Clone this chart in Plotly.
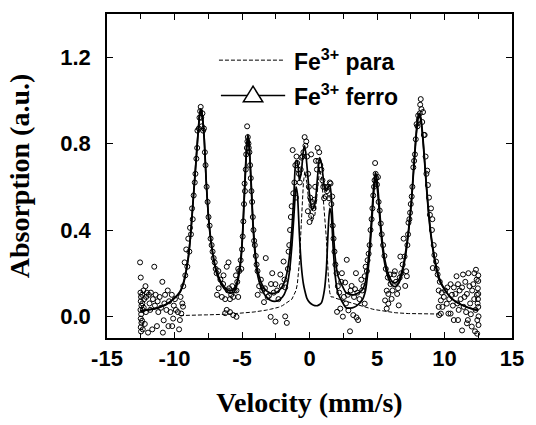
import plotly.graph_objects as go

# Velocity grid of the fitted curves (mm/s)
FIT_V = [
    -12.5, -12.0, -11.5, -11.0, -10.5, -10.0, -9.6, -9.3, -9.0, -8.8,
    -8.6, -8.4, -8.25, -8.12, -8.05, -7.95, -7.8, -7.65, -7.5, -7.35,
    -7.2, -7.0, -6.8, -6.5, -6.2, -5.9, -5.6, -5.4, -5.2, -5.05,
    -4.95, -4.85, -4.75, -4.65, -4.57, -4.48, -4.38, -4.28, -4.18, -4.05,
    -3.9, -3.7, -3.5, -3.2, -2.9, -2.6, -2.3, -2.0, -1.75, -1.5,
    -1.3, -1.15, -1.0, -0.9, -0.75, -0.6, -0.45, -0.35, -0.2, 0.0,
    0.2, 0.4, 0.6, 0.75, 0.9, 1.1, 1.25, 1.4, 1.5, 1.6,
    1.75, 1.9, 2.1, 2.4, 2.7, 3.0, 3.3, 3.6, 3.9, 4.15,
    4.35, 4.5, 4.65, 4.78, 4.88, 4.98, 5.1, 5.25, 5.4, 5.6,
    5.85, 6.1, 6.35, 6.6, 6.85, 7.1, 7.35, 7.55, 7.75, 7.92,
    8.05, 8.15, 8.25, 8.4, 8.6, 8.8, 9.0, 9.3, 9.6, 10.0,
    10.5, 11.0, 11.5, 12.0, 12.5,
]

# Fe3+ ferromagnetic sextet component
FIT_FERRO = [
    0.025, 0.03, 0.035, 0.045, 0.06, 0.085, 0.11, 0.16, 0.26, 0.38,
    0.55, 0.72, 0.85, 0.94, 0.955, 0.93, 0.82, 0.62, 0.47, 0.37,
    0.30, 0.23, 0.185, 0.145, 0.12, 0.108, 0.112, 0.14, 0.20, 0.28,
    0.38, 0.52, 0.66, 0.78, 0.825, 0.79, 0.68, 0.55, 0.41, 0.30,
    0.21, 0.155, 0.12, 0.09, 0.075, 0.07, 0.075, 0.09, 0.12, 0.20,
    0.33, 0.47, 0.60, 0.57, 0.38, 0.23, 0.15, 0.12, 0.085, 0.065,
    0.055, 0.05, 0.05, 0.055, 0.065, 0.12, 0.22, 0.42, 0.50, 0.48,
    0.32, 0.19, 0.11, 0.07, 0.04, 0.038, 0.042, 0.055, 0.075, 0.12,
    0.22, 0.33, 0.47, 0.59, 0.635, 0.615, 0.54, 0.42, 0.32, 0.235,
    0.175, 0.145, 0.138, 0.152, 0.196, 0.276, 0.397, 0.527, 0.707, 0.848,
    0.918, 0.928, 0.908, 0.818, 0.649, 0.489, 0.369, 0.249, 0.169, 0.125,
    0.085, 0.062, 0.047, 0.036, 0.028,
]

# Fe3+ paramagnetic doublet component (not fitted beyond about +-9.6 mm/s)
FIT_PARA = [
    None, None, None, None, None, None, 0.004, 0.005, 0.005, 0.005,
    0.006, 0.006, 0.006, 0.006, 0.006, 0.007, 0.007, 0.007, 0.007, 0.008,
    0.008, 0.008, 0.009, 0.009, 0.01, 0.011, 0.012, 0.013, 0.014, 0.015,
    0.015, 0.016, 0.016, 0.017, 0.017, 0.018, 0.018, 0.019, 0.02, 0.021,
    0.022, 0.024, 0.026, 0.029, 0.033, 0.037, 0.042, 0.05, 0.06, 0.07,
    0.08, 0.10, 0.12, 0.15, 0.25, 0.44, 0.62, 0.67, 0.62, 0.50,
    0.44, 0.47, 0.60, 0.68, 0.64, 0.48, 0.36, 0.18, 0.11, 0.09,
    0.09, 0.085, 0.08, 0.075, 0.07, 0.064, 0.058, 0.053, 0.047, 0.042,
    0.039, 0.036, 0.034, 0.032, 0.031, 0.03, 0.028, 0.026, 0.024, 0.022,
    0.02, 0.018, 0.017, 0.016, 0.014, 0.014, 0.013, 0.013, 0.013, 0.012,
    0.012, 0.012, 0.012, 0.012, 0.011, 0.011, 0.011, 0.011, 0.011, None,
    None, None, None, None, None,
]

# Full fitted envelope
FIT_TOTAL = [
    0.025, 0.03, 0.035, 0.045, 0.06, 0.085, 0.114, 0.165, 0.265, 0.385,
    0.556, 0.726, 0.856, 0.946, 0.961, 0.937, 0.827, 0.627, 0.477, 0.378,
    0.308, 0.238, 0.194, 0.154, 0.13, 0.119, 0.124, 0.153, 0.214, 0.295,
    0.395, 0.536, 0.676, 0.797, 0.842, 0.808, 0.698, 0.569, 0.43, 0.321,
    0.232, 0.179, 0.146, 0.119, 0.108, 0.107, 0.117, 0.14, 0.18, 0.27,
    0.41, 0.57, 0.72, 0.72, 0.63, 0.67, 0.77, 0.79, 0.705, 0.565,
    0.495, 0.52, 0.65, 0.735, 0.705, 0.60, 0.58, 0.60, 0.61, 0.57,
    0.41, 0.275, 0.19, 0.145, 0.11, 0.102, 0.10, 0.108, 0.122, 0.162,
    0.259, 0.366, 0.504, 0.622, 0.666, 0.645, 0.568, 0.446, 0.344, 0.257,
    0.195, 0.163, 0.155, 0.168, 0.21, 0.29, 0.41, 0.54, 0.72, 0.86,
    0.93, 0.94, 0.92, 0.83, 0.66, 0.50, 0.38, 0.26, 0.18, 0.125,
    0.085, 0.062, 0.047, 0.036, 0.028,
]

# Measured spectrum: (velocity mm/s, absorption a.u.)
MEASURED = [
    # left baseline
    (-12.55, 0.25), (-12.5, 0.18), (-12.52, 0.11), (-12.48, 0.09), (-12.5, 0.07),
    (-12.45, 0.05), (-12.52, 0.03), (-12.47, 0.01), (-12.5, -0.01), (-12.45, -0.03),
    (-12.5, -0.05), (-12.48, -0.07), (-12.4, 0.10), (-12.38, 0.06), (-12.35, 0.03),
    (-12.4, -0.02), (-12.35, -0.06), (-12.3, 0.12), (-12.25, 0.08), (-12.28, 0.04),
    (-12.2, -0.035), (-12.15, 0.14), (-12.1, 0.09), (-12.12, 0.02), (-12.05, 0.11),
    (-11.96, -0.075), (-11.9, 0.10), (-11.85, 0.06), (-11.8, 0.03), (-11.75, 0.11),
    (-11.65, -0.06), (-11.6, 0.08), (-11.5, 0.23), (-11.45, 0.05), (-11.4, 0.10),
    (-11.3, -0.045), (-11.25, 0.07), (-11.2, 0.02), (-11.1, 0.09), (-11.0, 0.04),
    (-10.9, 0.16), (-10.86, -0.075), (-10.8, -0.018), (-10.75, 0.06), (-10.7, 0.10),
    (-10.6, 0.03), (-10.5, 0.12), (-10.45, -0.045), (-10.4, 0.07), (-10.3, 0.02),
    (-10.2, 0.10), (-10.17, -0.045), (-10.1, -0.01), (-10.05, 0.05), (-9.97, 0.08),
    (-9.9, 0.03), (-9.75, 0.02), (-9.66, -0.06), (-9.6, -0.017), (-9.55, 0.09),
    (-9.5, 0.013), (-9.42, 0.06), (-9.37, 0.045),
    # first outer line
    (-9.35, 0.14), (-9.25, 0.25), (-9.2, 0.19), (-9.13, 0.31), (-9.05, 0.23),
    (-8.98, 0.36), (-8.9, 0.30), (-8.85, 0.41), (-8.78, 0.38), (-8.7, 0.50),
    (-8.65, 0.45), (-8.58, 0.56), (-8.5, 0.62), (-8.45, 0.66), (-8.38, 0.73),
    (-8.32, 0.78), (-8.3, 0.86), (-8.2, 0.87), (-8.15, 0.92), (-8.1, 0.95),
    (-8.06, 0.97), (-8.02, 0.92), (-7.98, 0.88), (-7.93, 0.94), (-7.88, 0.86),
    (-7.82, 0.87), (-7.75, 0.76), (-7.7, 0.70), (-7.62, 0.60), (-7.55, 0.53),
    (-7.48, 0.46), (-7.4, 0.42), (-7.33, 0.36), (-7.25, 0.33), (-7.18, 0.30),
    (-7.1, 0.27), (-7.02, 0.25), (-6.95, 0.22), (-6.88, 0.20),
    # valley between lines 1 and 2
    (-6.85, 0.10), (-6.75, 0.21), (-6.73, 0.13), (-6.6, 0.17), (-6.49, 0.09),
    (-6.4, 0.15), (-6.37, 0.19), (-6.25, 0.08), (-6.25, 0.015), (-6.13, 0.23),
    (-6.13, 0.03), (-6.05, 0.12), (-6.0, 0.25), (-5.95, 0.13), (-5.89, 0.08),
    (-5.89, 0.02), (-5.8, 0.10), (-5.72, 0.14), (-5.65, 0.09), (-5.65, 0.006),
    (-5.55, 0.12), (-5.45, 0.19), (-5.41, 0.12), (-5.41, -0.002), (-5.35, 0.16),
    (-5.28, 0.22), (-5.28, 0.09), (-5.2, 0.21), (-5.1, 0.26), (-5.05, 0.22),
    # second line
    (-5.0, 0.31), (-4.95, 0.37), (-4.9, 0.44), (-4.85, 0.52), (-4.81, 0.615),
    (-4.78, 0.58), (-4.72, 0.68), (-4.69, 0.75), (-4.64, 0.78), (-4.62, 0.88),
    (-4.6, 0.81), (-4.57, 0.83), (-4.52, 0.80), (-4.5, 0.78), (-4.45, 0.76),
    (-4.4, 0.70), (-4.35, 0.64), (-4.3, 0.58), (-4.25, 0.53), (-4.2, 0.46),
    (-4.15, 0.40), (-4.1, 0.35), (-4.05, 0.33), (-3.98, 0.28), (-3.92, 0.24),
    (-3.85, 0.21),
    # valley between lines 2 and 3
    (-3.84, 0.10), (-3.73, 0.14), (-3.6, 0.17), (-3.5, 0.12), (-3.37, 0.066),
    (-3.3, 0.13), (-3.24, 0.27), (-3.1, 0.09), (-3.0, 0.096), (-2.88, -0.002),
    (-2.85, 0.15), (-2.76, 0.20), (-2.65, 0.11), (-2.52, 0.149), (-2.52, -0.024),
    (-2.4, 0.12), (-2.3, 0.08), (-2.16, 0.194), (-2.05, 0.14), (-1.92, 0.254),
    (-1.85, 0.17), (-1.8, 0.134), (-1.8, 0.0), (-1.68, -0.03), (-1.6, 0.22),
    (-1.55, 0.30),
    # central group
    (-1.5, 0.33), (-1.44, 0.40), (-1.38, 0.46), (-1.32, 0.51), (-1.25, 0.77),
    (-1.2, 0.57), (-1.12, 0.62), (-1.05, 0.70), (-1.0, 0.55), (-0.96, 0.74),
    (-0.91, 0.71), (-0.85, 0.68), (-0.78, 0.66), (-0.72, 0.62), (-0.65, 0.68),
    (-0.6, 0.735), (-0.52, 0.74), (-0.45, 0.76), (-0.36, 0.83), (-0.3, 0.79),
    (-0.24, 0.81), (-0.18, 0.74), (-0.12, 0.487), (-0.1, 0.66), (-0.05, 0.60),
    (0.0, 0.437), (0.05, 0.55), (0.12, 0.465), (0.12, 0.75), (0.18, 0.53),
    (0.24, 0.51), (0.3, 0.50), (0.36, 0.54), (0.42, 0.60), (0.48, 0.72),
    (0.55, 0.68), (0.6, 0.78), (0.66, 0.72), (0.72, 0.76), (0.8, 0.70),
    (0.88, 0.68), (0.96, 0.63), (1.02, 0.60), (1.08, 0.547), (1.15, 0.60),
    (1.2, 0.555), (1.3, 0.58), (1.38, 0.60), (1.44, 0.547), (1.5, 0.62),
    (1.56, 0.615), (1.62, 0.52), (1.68, 0.555), (1.72, 0.42), (1.78, 0.36),
    (1.85, 0.30), (1.92, 0.24),
    # valley between lines 4 and 5
    (2.0, 0.20), (2.04, 0.021), (2.1, 0.14), (2.2, 0.11), (2.28, 0.036),
    (2.35, 0.16), (2.4, 0.20), (2.47, -0.001), (2.55, 0.09), (2.64, 0.157),
    (2.7, 0.06), (2.76, 0.262), (2.84, 0.10), (2.88, 0.028), (3.0, -0.069),
    (3.05, 0.12), (3.12, 0.141), (3.24, 0.006), (3.3, 0.09), (3.37, 0.126),
    (3.44, 0.20), (3.48, -0.005), (3.55, 0.11), (3.6, -0.017), (3.7, 0.08),
    (3.84, 0.17), (3.9, 0.12), (4.0, 0.14), (4.09, 0.186), (4.09, 0.059),
    (4.16, 0.23), (4.25, 0.21),
    # fifth line
    (4.3, 0.26), (4.38, 0.29), (4.45, 0.33), (4.52, 0.40), (4.6, 0.45),
    (4.66, 0.50), (4.72, 0.56), (4.78, 0.60), (4.82, 0.63), (4.86, 0.71),
    (4.9, 0.66), (4.95, 0.64), (5.0, 0.61), (5.07, 0.645), (5.12, 0.53),
    (5.2, 0.49), (5.28, 0.43), (5.35, 0.38), (5.45, 0.33), (5.55, 0.28),
    # valley between lines 5 and 6
    (5.6, 0.074), (5.65, 0.22), (5.72, 0.119), (5.72, 0.036), (5.8, 0.18),
    (5.84, 0.104), (5.84, 0.059), (5.96, 0.194), (6.0, 0.15), (6.08, 0.081),
    (6.15, 0.12), (6.25, 0.194), (6.32, 0.209), (6.4, 0.16), (6.49, 0.104),
    (6.56, 0.13), (6.61, 0.051), (6.68, 0.179), (6.73, 0.277), (6.8, 0.20),
    (6.9, 0.24), (6.97, 0.36), (7.04, 0.277), (7.09, 0.141), (7.16, 0.209),
    (7.21, 0.186), (7.25, 0.33),
    # sixth line
    (7.3, 0.38), (7.33, 0.434), (7.4, 0.45), (7.45, 0.48), (7.5, 0.52),
    (7.57, 0.555), (7.62, 0.60), (7.69, 0.69), (7.75, 0.72), (7.81, 0.75),
    (7.87, 0.82), (7.93, 0.89), (8.0, 0.88), (8.05, 0.93), (8.1, 0.91),
    (8.17, 0.94), (8.2, 0.98), (8.24, 1.006), (8.29, 0.96), (8.35, 0.90),
    (8.41, 0.946), (8.47, 0.84), (8.53, 0.84), (8.6, 0.74), (8.66, 0.66),
    (8.72, 0.675), (8.77, 0.608), (8.85, 0.55), (8.92, 0.47), (9.0, 0.50),
    (9.07, 0.40), (9.1, 0.45), (9.13, 0.224), (9.2, 0.33), (9.25, 0.284),
    (9.37, 0.254), (9.42, 0.22), (9.49, 0.194),
    # right baseline
    (9.57, 0.12), (9.57, 0.044), (9.6, 0.006), (9.65, 0.16), (9.73, 0.074),
    (9.73, 0.013), (9.8, 0.11), (9.85, 0.044), (9.95, 0.09), (10.05, 0.12),
    (10.17, 0.059), (10.21, 0.134), (10.29, 0.013), (10.35, 0.08), (10.45, 0.149),
    (10.45, 0.013), (10.55, 0.10), (10.62, 0.05), (10.69, 0.134), (10.69, -0.017),
    (10.81, 0.104), (10.89, 0.186), (10.95, 0.06), (11.0, 0.149), (11.0, -0.017),
    (11.05, 0.03), (11.12, 0.12), (11.2, 0.08), (11.3, 0.134), (11.3, -0.065),
    (11.37, 0.194), (11.42, 0.044), (11.48, 0.09), (11.54, 0.16), (11.6, 0.02),
    (11.66, 0.104), (11.66, -0.032), (11.73, -0.017), (11.77, 0.20), (11.85, 0.14),
    (11.9, 0.06), (11.95, 0.01), (12.02, -0.047), (12.05, 0.12), (12.13, 0.149),
    (12.2, 0.08), (12.21, 0.20), (12.26, -0.069), (12.3, 0.03), (12.33, 0.216),
    (12.38, 0.17), (12.4, 0.10), (12.43, -0.017), (12.45, 0.06), (12.47, 0.13),
    (12.5, 0.164), (12.5, 0.104), (12.5, 0.044), (12.52, 0.0), (12.52, -0.04),
    (12.48, 0.08), (12.5, 0.19), (12.42, -0.08),
]

X_TICKS = [-15, -10, -5, 0, 5, 10, 15]
X_TICK_TEXT = ["-15", "-10", "-5", "0", "5", "10", "15"]
X_MINOR_TICKS = [-12.5, -7.5, -2.5, 2.5, 7.5, 12.5]
Y_TICKS = [0.0, 0.4, 0.8, 1.2]
Y_TICK_TEXT = ["0.0", "0.4", "0.8", "1.2"]

SANS = "Liberation Sans, Arial, sans-serif"
SERIF = "Liberation Serif, Times New Roman, serif"

meas_v = [p[0] for p in MEASURED]
meas_y = [p[1] for p in MEASURED]

fig = go.Figure()

fig.add_trace(go.Scatter(
    x=meas_v, y=meas_y, mode="markers",
    marker=dict(symbol="circle-open", size=5, color="black", line=dict(width=1, color="black")),
    showlegend=False, hoverinfo="skip",
))
fig.add_trace(go.Scatter(
    x=FIT_V, y=FIT_PARA, mode="lines", connectgaps=False,
    line=dict(color="black", width=1, dash="4px,2px"),
    showlegend=False,
))
fig.add_trace(go.Scatter(
    x=FIT_V, y=FIT_FERRO, mode="lines",
    line=dict(color="black", width=1.7, shape="spline", smoothing=0.6),
    showlegend=False,
))
fig.add_trace(go.Scatter(
    x=FIT_V, y=FIT_TOTAL, mode="lines",
    line=dict(color="black", width=1.7, shape="spline", smoothing=0.6),
    showlegend=False,
))

# plot-area geometry in pixels, used to place the hand-drawn key
L, R, T, B = 107, 523, 14, 344
W, H = 536, 425


def px(xp):
    return (xp - L) / (R - L)


def py(yp):
    return (B - yp) / (B - T)


shapes = [
    dict(type="line", xref="paper", yref="paper", x0=px(222), x1=px(289), y0=py(61), y1=py(61),
         line=dict(color="black", width=1, dash="4px,2px")),
    dict(type="line", xref="paper", yref="paper", x0=px(224), x1=px(290), y0=py(97), y1=py(97),
         line=dict(color="black", width=1.5)),
    dict(type="path", xref="paper", yref="paper",
         path=f"M {px(247)} {py(103.5)} L {px(257)} {py(87.5)} L {px(267)} {py(103.5)} Z",
         fillcolor="white", line=dict(color="black", width=1.5)),
]

annotations = [
    dict(xref="paper", yref="paper", x=px(297), y=py(61), xanchor="left", yanchor="middle",
         text="Fe<sup>3+</sup> para", showarrow=False,
         font=dict(family=SANS, size=23, color="black", weight="bold")),
    dict(xref="paper", yref="paper", x=px(297), y=py(97), xanchor="left", yanchor="middle",
         text="Fe<sup>3+</sup> ferro", showarrow=False,
         font=dict(family=SANS, size=23, color="black", weight="bold")),
]

axis_common = dict(
    showline=True, linecolor="black", linewidth=1.5, mirror="ticks",
    ticks="inside", ticklen=6, tickwidth=1.2, tickcolor="black",
    showgrid=False, zeroline=False,
    tickfont=dict(family=SANS, size=22, color="black", weight="bold"),
)

fig.update_layout(
    width=W, height=H,
    margin=dict(l=L, r=W - R, t=T, b=H - B),
    paper_bgcolor="white", plot_bgcolor="white",
    showlegend=False,
    shapes=shapes, annotations=annotations,
    xaxis=dict(
        range=[-15, 15], tickvals=X_TICKS, ticktext=X_TICK_TEXT,
        minor=dict(tickvals=X_MINOR_TICKS, ticks="inside", ticklen=5,
                   tickwidth=1.2, tickcolor="black"),
        title=dict(text="Velocity (mm/s)", standoff=22,
                   font=dict(family=SERIF, size=28, color="black", weight="bold")),
        **axis_common,
    ),
    yaxis=dict(
        range=[-0.1, 1.4], tickvals=Y_TICKS, ticktext=Y_TICK_TEXT,
        ticklabelstandoff=10,
        title=dict(text="Absorption (a.u.)", standoff=22,
                   font=dict(family=SERIF, size=28, color="black", weight="bold")),
        **axis_common,
    ),
)

fig.write_html("out.html")
